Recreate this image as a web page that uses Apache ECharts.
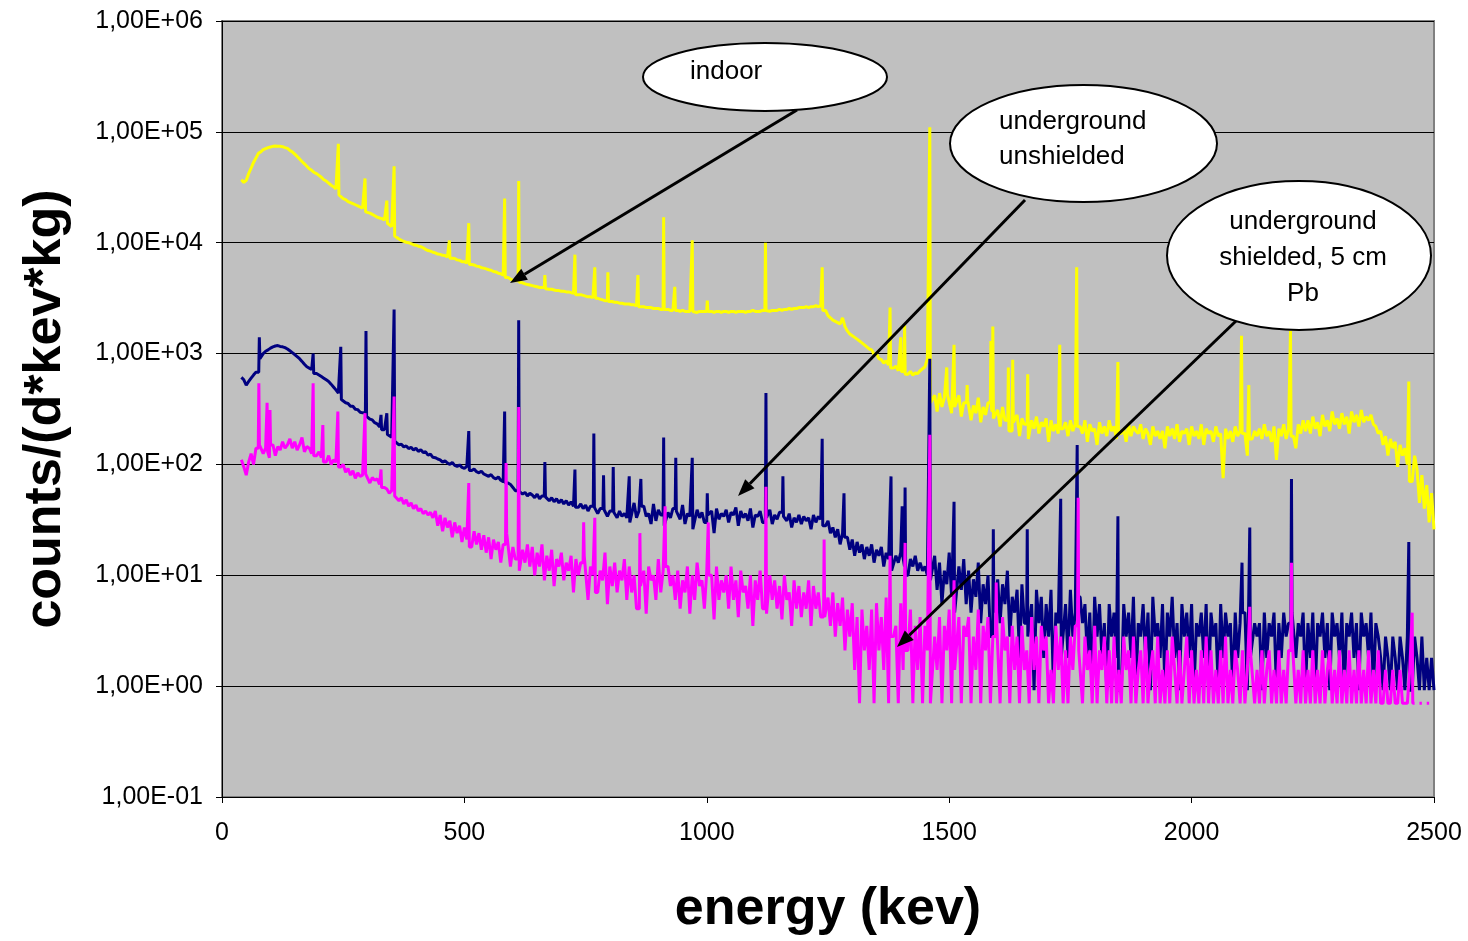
<!DOCTYPE html>
<html><head><meta charset="utf-8">
<script src="https://cdn.jsdelivr.net/npm/echarts@6/dist/echarts.min.js"></script>
<style>html,body{margin:0;padding:0;background:#fff}#c{width:1468px;height:941px}</style>
</head><body><div id="c"></div>
<script>
// energy grid: 40 keV to 2500 keV, 5 keV per value
const E_START = 40, E_STEP = 5;
const xTicks = [0, 500, 1000, 1500, 2000, 2500];

const yellowValues = [
37000,35000,36500,42000,47000,53000,58000,64000,66000,69000,70500,72000,73000,74000,74500,74000,74000,73500,72000,71000,
68000,66000,63000,60000,57000,54000,51500,49000,46500,45000,43000,42000,40500,39000,37000,36000,34500,33000,32000,30500,
29000,27000,25000,24500,23500,23000,22500,22000,21500,21000,20500,20000,19000,18500,18000,17500,17000,16700,16500,16000,
15500,15000,14000,13000,11500,10800,10500,10300,10100,10000,9800,9600,9500,9300,9200,9000,8700,8500,8400,8200,
8100,7900,7850,7700,7650,7450,7450,7250,7200,7000,6950,6750,6750,6550,6500,6350,6300,6150,6100,5950,
5900,5800,5700,5650,5500,5450,5300,5250,5100,5000,4850,4700,4600,4550,4450,4400,4350,4250,4200,4150,
4100,4050,4000,3950,3950,3900,3850,3800,3800,3750,3700,3700,3650,3650,3600,3600,3550,3500,3450,3400,
3400,3350,3300,3250,3250,3200,3150,3150,3100,3050,3000,3000,2950,2950,2900,2900,2850,2850,2800,2800,
2800,2750,2750,2700,2700,2650,2650,2600,2600,2600,2550,2550,2550,2500,2500,2500,2500,2450,2450,2450,
2450,2400,2450,2400,2400,2400,2450,2400,2350,2400,2400,2400,2350,2400,2400,2350,2400,2400,2350,2400,
2400,2350,2400,2400,2350,2400,2400,2400,2350,2400,2400,2450,2400,2400,2400,2450,2400,2450,2400,2450,
2450,2450,2500,2450,2500,2500,2550,2500,2550,2550,2600,2600,2600,2650,2600,2650,2650,2700,2650,2700,
2700,2450,2200,2100,2000,1950,1900,1850,2100,1750,1600,1500,1450,1400,1350,1300,1250,1200,1150,1100,
1080,980,1000,900,880,820,860,790,800,740,770,700,740,690,710,650,690,640,670,660,
700,730,760,900,500,360,420,300,440,330,400,310,430,290,380,330,420,270,360,300,
380,250,340,290,400,240,330,280,360,300,320,260,310,220,330,250,290,200,300,240,
280,180,260,230,290,170,250,210,270,190,240,220,260,160,250,200,230,190,260,210,
240,180,250,200,230,170,220,190,250,160,230,200,210,150,240,190,220,180,250,200,
220,170,240,190,210,160,230,180,220,200,190,230,170,210,190,150,220,180,200,170,
200,140,220,180,210,170,230,160,200,190,210,150,220,180,200,170,230,150,210,190,
200,160,220,180,190,75,210,170,200,160,220,180,200,150,190,120,210,170,200,180,
210,170,230,180,200,160,220,110,210,180,230,170,210,190,180,140,230,190,250,200,
250,190,270,210,240,180,280,220,250,200,300,230,260,210,290,230,270,190,300,240,
280,220,310,240,270,250,280,230,220,190,200,150,180,120,170,140,160,95,150,120,
140,100,130,70,120,90,45,80,40,65,30,55,26
];

const blueValues = [
610,580,520,560,600,640,680,760,900,1000,1050,1080,1120,1150,1170,1180,1160,1150,1130,1100,
1060,1020,980,940,900,850,800,760,740,720,690,660,640,620,600,580,560,530,500,470,
440,410,385,360,355,335,335,315,312,296,292,276,272,256,252,238,232,218,216,206,
200,186,176,162,162,150,152,144,147,139,143,135,140,131,136,128,130,121,124,116,
115,112,110,105,108,103,100,104,98,96,99,94,92,96,90,88,91,86,84,87,
82,80,78,81,76,74,77,72,70,73,68,66,62,58,55,57,54,56,52,55,
53,50,54,49,52,48,51,47,50,46,49,45,48,44,47,43,46,42,45,41,
44,40,43,38,42,37,41,36,40,35,39,34,38,35,37,33,38,34,36,33,
40,30,45,33,38,27,42,34,36,29,44,31,39,35,41,28,37,33,40,30,
38,32,43,29,36,34,41,26,39,33,37,30,42,35,38,24,40,32,36,34,
39,30,37,35,41,28,38,33,36,31,40,27,35,34,38,30,36,33,39,29,
35,32,37,28,34,31,36,27,33,30,35,29,34,31,33,26,35,30,34,32,
33,28,31,24,27,22,26,19,24,20,22,17,21,15,20,16,19,14,18,15,
19,13,17,15,18,12,16,14,17,11,15,13,16,12,15,10,14,12,15,11,
13,11,12,10,12,9,15,7.4,13,5.5,11,8.3,16,6.4,10,4.6,12,7.4,14,5.5,
11,4.6,9.2,6.4,13,3.7,8.3,5.5,10,2.8,7.4,4.6,9.2,3.7,8.3,5.5,11,2.8,6.4,4.6,
7.4,1.8,8.3,3.7,6.4,2.8,5.5,0.92,7.4,3.7,6.4,1.8,5.5,2.8,7.4,0.92,4.6,3.7,6.4,1.8,
5.5,1.8,7.4,2.8,4.6,0.92,6.4,3.7,5.5,1.8,4.6,0.92,6.4,2.8,5.5,1.8,3.7,0.92,5.5,2.8,
4.6,1.8,6.4,0.92,5.5,2.8,4.6,1.8,6.4,0.92,3.7,2.8,5.5,1.8,4.6,0.92,6.4,2.8,3.7,1.8,
5.5,0.92,4.6,2.8,6.4,1.8,3.7,0.92,5.5,2.8,4.6,1.8,5.5,0.92,3.7,2.8,4.6,1.8,5.5,0.92,
4.6,2.8,3.7,0.92,5.5,1.8,4.6,2.8,3.7,0.92,4.6,1.8,3.7,2.8,4.6,0.92,5.5,1.8,3.7,2.8,
3.7,0.92,4.6,1.8,3.7,2.8,4.6,0.92,3.7,1.8,4.6,2.8,3.7,0.92,4.6,1.8,3.7,2.8,4.6,0.92,
3.7,1.8,4.6,0.92,3.7,2.8,4.6,1.8,3.7,0.92,4.6,2.8,3.7,1.8,4.6,0.92,3.7,2.8,4.6,1.8,
3.7,0.92,4.6,2.8,3.7,1.8,4.6,0.92,3.7,2.8,1.8,0.92,2.8,1.8,0.92,2.8,1.8,0.92,2.8,1.8,
0.92,2.8,1.8,0.92,2.8,1.8,0.92,2.8,0.92,1.8,0.92,1.8,0.92
];

const pinkValues = [
110,95,80,105,125,100,140,165,150,125,140,115,130,150,120,145,135,160,140,150,
170,140,160,135,150,175,130,145,140,125,150,120,130,115,125,105,120,100,110,105,
103,95,100,85,92,80,88,75,84,78,80,70,82,68,76,72,74,66,78,62,
60,55,58,50,52,47,50,44,48,42,45,40,43,38,40,36,38,35,37,33,
38,28,35,25,33,27,31,22,30,24,28,20,27,21,26,18,25,19,24,17,
23,16,22,14,21,17,20,13,19,15,24,12,18,14,20,11,17,13,19,12,
18,10,16,12,19,9,15,11,17,8,14,12,16,9,13,11,15,7,14,10,
13,8,15,6,12,10,14,7,11,9,16,5.5,12,8,13,7,11,9,14,6,
12,7,10,5,13,8,11,4.5,12,9,10,6,14,7,11,5,12,8,10,6,
11,5,9,7,12,4.5,10,6,13,8,9,5,11,7,10,4,12,6,9,7,
10,5,12,6,9,4.2,11,7,8,5,10,3.5,9,6,11,5,8,4.5,10,6,
9,5,8,4,10,6,7,3.5,9,5,8,4.2,7,5,9,3.5,8,5,7,4.2,
8,4.2,6.3,3.5,7,2.8,5.6,3.5,6.3,2.1,4.9,2.8,5.6,1.4,4.2,0.7,4.9,2.1,3.5,1.4,
4.9,0.7,5.6,2.1,4.2,1.4,6.3,0.7,4.9,2.8,3.5,0.7,5.6,1.4,4.2,2.1,4.9,0.7,3.5,1.4,
4.2,0.7,3.5,2.1,4.9,0.7,2.8,1.4,4.2,0.7,3.5,2.1,4.9,0.7,2.8,1.4,4.2,0.7,3.5,2.8,
4.2,0.7,2.8,1.4,4.9,0.7,3.5,2.1,4.2,0.7,2.8,1.4,3.5,0.7,4.2,2.1,2.8,0.7,3.5,1.4,
2.8,0.7,3.5,1.4,2.1,0.7,4.2,1.4,2.8,0.7,3.5,2.1,2.8,0.7,1.4,0.7,3.5,1.4,2.8,0.7,
2.1,0.7,2.8,1.4,3.5,0.7,2.1,0.7,2.8,1.4,2.1,0.7,3.5,0.7,2.1,1.4,2.8,0.7,2.1,0.7,
2.8,0.7,1.4,0.7,2.8,1.4,2.1,0.7,2.8,0.7,1.4,2.1,0.7,2.8,0.7,1.4,2.1,0.7,2.8,0.7,
1.4,0.7,2.1,0.7,2.8,1.4,0.7,2.1,0.7,1.4,2.8,0.7,2.1,0.7,1.4,0.7,2.1,0.7,2.8,0.7,
2.1,0.7,1.4,0.7,2.1,0.7,2.8,0.7,1.4,0.7,2.1,1.4,0.7,2.1,0.7,1.4,0.7,2.1,0.7,1.4,
0.7,2.1,0.7,1.4,2.1,0.7,1.4,0.7,2.1,0.7,1.4,0.7,2.1,0.7,2.8,0.7,1.4,0.7,2.1,0.7,
1.4,0.7,2.1,0.7,1.4,0.7,2.1,0.7,1.4,2.1,0.7,1.4,0.7,2.1,0.7,1.4,0.7,2.1,0.7,1.4,
0.7,2.1,0.7,1.4,0.7,2.1,0.7,1.4,0.7,2.1,0.7,0.7,1.4,0.7,0.7,1.4,0.7,0.7,1.4,0.7,
0.7,0.7,1.4,0.7,0.7,null,0.7,0.7,null,0.7,0.7,null,0.7
];

// gamma lines: [energy keV, counts]
const yellowPeaks = [[240,78000],[295,38000],[340,24000],[355,49000],[469,10500],[509,15000],[583,25000],[612,36000],[666,5100],[728,7800],[769,6000],[796,5400],[858,5100],[911,17000],[934,4000],[970,10500],[1001,3000],[1121,10000],[1238,6000],[1378,2600],[1400,1400],[1408,1800],[1460,110000],[1495,750],[1510,1200],[1537,520],[1586,1300],[1590,1750],[1622,750],[1631,880],[1662,650],[1728,1200],[1763,6000],[1848,840],[2103,1450],[2118,520],[2204,1600],[2448,560]];
const bluePeaks = [[77,1400],[188,1000],[245,1150],[297,1600],[328,280],[340,290],[355,2500],[509,200],[583,300],[612,2000],[666,105],[728,90],[767,190],[787,80],[807,95],[840,78],[864,74],[911,175],[936,115],[970,115],[1001,55],[1122,440],[1157,78],[1238,170],[1283,55],[1380,78],[1403,42],[1409,62],[1460,900],[1510,46],[1591,26],[1661,26],[1730,49],[1764,150],[1848,34],[2104,13],[2120,27],[2206,74],[2448,20]];
const pinkPeaks = [[76,540],[93,360],[99,310],[188,540],[208,227],[239,300],[295,290],[328,90],[355,410],[509,68],[586,103],[612,330],[746,30],[769,33],[862,24],[914,42],[1003,30],[1122,63],[1242,21],[1378,15],[1409,19.6],[1460,185],[1510,9],[1597,8.6],[1766,50],[2120,5.2],[2206,13],[2455,4.6]];

const FONT = "'Liberation Sans', Arial, Helvetica, sans-serif";

function buildSeries(values, peaks) {
  const grid = values.map((v, i) => [E_START + i * E_STEP, v]);
  const out = grid.filter(p => !peaks.some(pk => Math.abs(p[0] - pk[0]) <= 2));
  peaks.forEach(([e, v]) => {
    let left = null, right = null;
    for (const p of grid) { if (p[0] < e - 2 && p[1] != null) left = p[1]; }
    for (const p of grid) { if (p[0] > e + 2 && p[1] != null) { right = p[1]; break; } }
    out.push([e - 1.2, left != null ? left : right]);
    out.push([e, v]);
    out.push([e + 1.2, right != null ? right : left]);
  });
  out.sort((a, b) => a[0] - b[0]);
  return out;
}

function sciLabel(v) {
  const e = Math.round(Math.log10(v));
  return '1,00E' + (e < 0 ? '-' : '+') + String(Math.abs(e)).padStart(2, '0');
}

function arrow(x1, y1, x2, y2) {
  const a = Math.atan2(y2 - y1, x2 - x1);
  const L = 17, W = 6.5;
  const bx = x2 - L * Math.cos(a), by = y2 - L * Math.sin(a);
  const px = -Math.sin(a) * W, py = Math.cos(a) * W;
  return [
    { type: 'line', z: 100, shape: { x1: x1, y1: y1, x2: bx, y2: by }, style: { stroke: '#000', lineWidth: 3 } },
    { type: 'polygon', z: 100, shape: { points: [[x2, y2], [bx + px, by + py], [bx - px, by - py]] }, style: { fill: '#000' } }
  ];
}
function bubble(cx, cy, rx, ry) {
  return { type: 'ellipse', z: 101, shape: { cx: cx, cy: cy, rx: rx, ry: ry }, style: { fill: '#fff', stroke: '#000', lineWidth: 2 } };
}
function label(text, x, y, align) {
  return { type: 'text', z: 102, x: x, y: y, style: { text: text, fontSize: 26, fontFamily: FONT, fill: '#000', align: align, verticalAlign: 'middle', textAlign: align, textVerticalAlign: 'middle' } };
}

const chart = echarts.init(document.getElementById('c'), null, { renderer: 'canvas' });

const graphics = [].concat(
  arrow(797, 110, 510, 283),
  arrow(1025, 200, 738, 496),
  arrow(1236, 321, 897, 647),
  [bubble(765, 77, 122, 34), bubble(1083.5, 143.5, 133.5, 58.5), bubble(1299, 255.5, 132, 74.5)],
  [label('indoor', 690, 72, 'left'),
   label('underground', 999, 122, 'left'), label('unshielded', 999, 157, 'left'),
   label('underground', 1303, 222, 'center'), label('shielded, 5 cm', 1303, 258, 'center'), label('Pb', 1303, 294, 'center')]
);

chart.setOption({
  animation: false,
  backgroundColor: '#fff',
  grid: { left: 222, right: 34, top: 21, bottom: 144, show: true, backgroundColor: '#C0C0C0', borderColor: '#808080', borderWidth: 2 },
  xAxis: {
    type: 'value', min: xTicks[0], max: xTicks[xTicks.length - 1], interval: 500,
    axisLine: { show: true, onZero: false, lineStyle: { color: '#000', width: 1 } },
    axisTick: { show: true, inside: false, length: 6, lineStyle: { color: '#000' } },
    axisLabel: { fontSize: 25, color: '#000', margin: 24, fontFamily: FONT, formatter: v => String(v) },
    splitLine: { show: false },
    name: 'energy (kev)', nameLocation: 'middle', nameGap: 87,
    nameTextStyle: { fontSize: 52, fontWeight: 'bold', color: '#000', fontFamily: FONT }
  },
  yAxis: {
    type: 'log', logBase: 10, min: 0.1, max: 1e6, interval: 1, splitNumber: 7,
    axisLine: { show: true, lineStyle: { color: '#000', width: 1 } },
    axisTick: { show: true, inside: false, length: 6, lineStyle: { color: '#000' } },
    axisLabel: { fontSize: 25, color: '#000', margin: 19, fontFamily: FONT, formatter: sciLabel },
    splitLine: { show: true, lineStyle: { color: '#000', width: 1 } },
    minorTick: { show: false }, minorSplitLine: { show: false },
    name: 'counts/(d*kev*kg)', nameLocation: 'middle', nameGap: 150,
    nameTextStyle: { fontSize: 52, fontWeight: 'bold', color: '#000', fontFamily: FONT }
  },
  series: [
    { name: 'indoor', type: 'line', data: buildSeries(yellowValues, yellowPeaks), showSymbol: false, symbol: 'none', connectNulls: false, lineStyle: { color: '#FFFF00', width: 3 }, itemStyle: { color: '#FFFF00' } },
    { name: 'underground unshielded', type: 'line', data: buildSeries(blueValues, bluePeaks), showSymbol: false, symbol: 'none', connectNulls: false, lineStyle: { color: '#000080', width: 3 }, itemStyle: { color: '#000080' } },
    { name: 'underground shielded, 5 cm Pb', type: 'line', data: buildSeries(pinkValues, pinkPeaks), showSymbol: false, symbol: 'none', connectNulls: false, lineStyle: { color: '#FF00FF', width: 3 }, itemStyle: { color: '#FF00FF' } }
  ],
  graphic: graphics
});
</script>
</body></html>
